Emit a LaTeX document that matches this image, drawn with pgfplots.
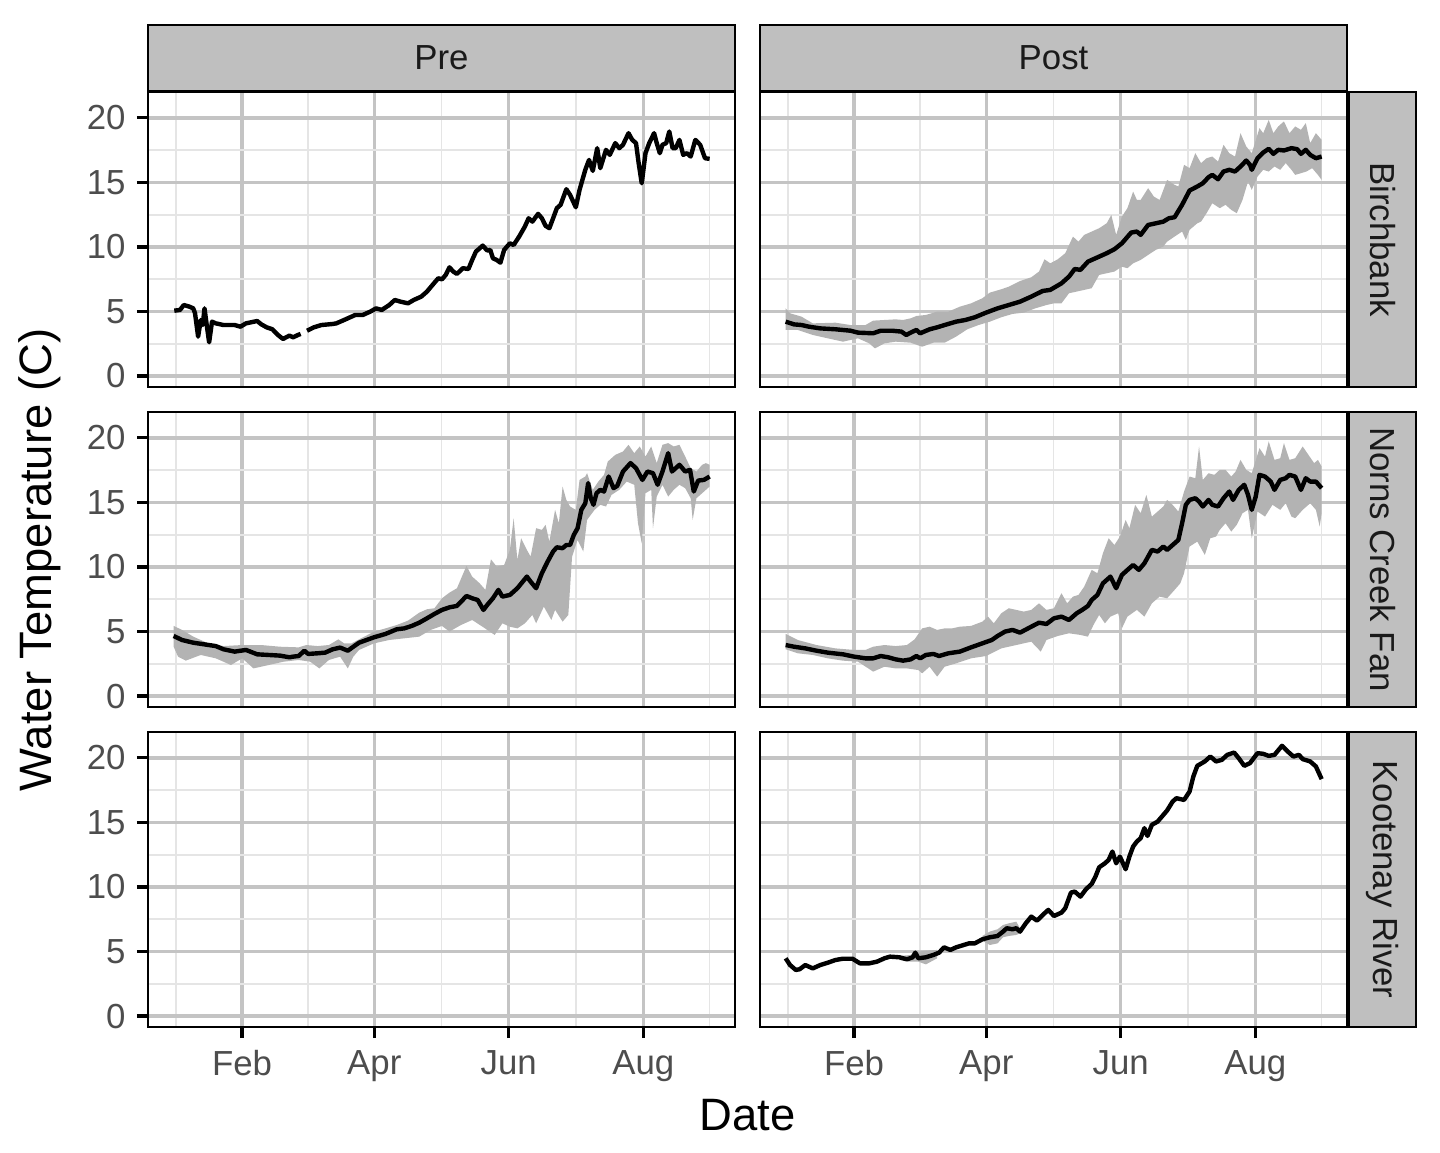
\documentclass[border=0pt]{standalone}
\usepackage{fontspec}
\setmainfont{Liberation Sans}
\usepackage{pgfplots}
\pgfplotsset{compat=1.18}
\usepgfplotslibrary{fillbetween}
\definecolor{gridmaj}{RGB}{196,196,196}
\definecolor{gridmin}{RGB}{229,229,229}
\definecolor{stripfill}{RGB}{191,191,191}
\definecolor{ribbon}{RGB}{179,179,179}
\definecolor{ticklab}{RGB}{77,77,77}
\definecolor{striptext}{RGB}{26,26,26}
\pgfplotsset{
 panel/.style={
  scale only axis, width=293.5pt, height=147.5pt, anchor=south west,
  xmin=-10.63, xmax=255.6, ymin=-0.85, ymax=22.0,
  xtick={32,92,153,214}, minor xtick={2,62,122.5,183.5,244},
  ytick={0,5,10,15,20}, minor ytick={2.5,7.5,12.5,17.5},
  xticklabels={Feb,Apr,Jun,Aug},
  grid=both,
  major grid style={gridmaj, line width=1.7pt},
  minor grid style={gridmin, line width=0.9pt},
  axis line style={black, line width=1pt},
  tick pos=left, tick align=outside,
  major tick length=5.5pt, minor tick length=0pt,
  tick style={black, line width=1.6pt},
  tick label style={font=\fontsize{17.4}{20}\selectfont, text=ticklab},
  xticklabel style={yshift=-2.5pt},
  yticklabel style={xshift=-2.2pt},
  /pgf/number format/assume math mode=true,
 },
 noxlab/.style={xticklabels={}, xtick style={draw=none}},
 noylab/.style={yticklabels={}, ytick style={draw=none}},
 dline/.style={black, line width=2.2pt, line join=round},
 rib/.style={fill=ribbon, draw=none},
}
\begin{document}
\begin{tikzpicture}

% ---------- Pre / Birchbank ----------
\begin{axis}[panel, noxlab, at={(74pt,382.5pt)}]
\addplot[dline] coordinates {(1.3,5.06)(3.9,5.12)(5.6,5.50)(8.2,5.37)(9.9,5.24)(10.7,4.86)(12.1,3.05)(13.3,4.34)(14.2,3.95)(15.0,5.24)(15.9,4.08)(17.1,2.61)(18.4,4.21)(20.1,4.08)(23.6,3.95)(28.7,3.95)(31.3,3.82)(33.8,4.08)(38.9,4.26)(40.7,4.01)(43.2,3.77)(45.8,3.62)(48.3,3.18)(50.6,2.87)(53.5,3.13)(55.2,3.00)(57.4,3.18)(58.6,3.26)};
\addplot[dline] coordinates {(61.5,3.51)(64.6,3.77)(68.0,3.95)(73.1,4.03)(74.8,4.08)(78.3,4.34)(83.4,4.73)(86.8,4.73)(90.2,4.99)(92.8,5.24)(95.4,5.12)(98.8,5.50)(101.3,5.89)(103.9,5.76)(107.3,5.63)(109.9,5.89)(113.3,6.15)(115.9,6.54)(118.4,7.05)(121.0,7.57)(122.7,7.49)(124.4,7.83)(126.1,8.42)(127.8,8.09)(129.5,7.91)(132.1,8.35)(134.7,8.29)(136.4,8.99)(138.1,9.64)(141.2,10.10)(143.2,9.72)(144.6,9.77)(145.8,9.12)(147.5,8.99)(149.2,8.78)(150.9,9.77)(153.5,10.28)(155.2,10.15)(157.7,10.80)(160.3,11.58)(162.0,12.22)(163.7,11.96)(166.3,12.56)(168.0,12.22)(169.7,11.63)(171.4,11.45)(173.1,12.22)(174.8,13.00)(176.5,13.26)(179.1,14.47)(180.8,14.03)(183.4,13.07)(185.1,14.42)(187.7,15.97)(189.4,16.74)(191.1,15.89)(193.1,17.65)(194.5,16.10)(197.1,17.52)(198.8,17.13)(201.3,18.04)(203.1,17.65)(204.8,17.91)(207.3,18.81)(209.0,18.29)(210.7,18.04)(211.9,16.49)(213.3,14.93)(215.0,17.26)(216.7,18.04)(218.9,18.81)(220.1,18.04)(221.5,17.26)(222.7,17.91)(224.4,18.04)(225.8,18.94)(227.3,17.65)(228.7,17.65)(230.4,18.29)(232.1,17.13)(233.8,17.26)(235.5,17.00)(237.6,18.29)(239.8,17.91)(242.0,16.87)(244.1,16.82)};
\end{axis}

% ---------- Post / Birchbank ----------
\begin{axis}[panel, noxlab, noylab, at={(380pt,382.5pt)}]
\addplot[name path=UA, draw=none] coordinates {(1.0,5.24)(3.0,4.86)(8.2,4.60)(13.3,4.08)(23.6,4.13)(30.4,3.95)(37.2,3.95)(40.7,4.29)(45.8,4.34)(50.9,4.39)(54.3,4.34)(57.7,4.47)(60.3,4.65)(64.6,4.73)(69.7,4.99)(74.8,4.99)(80.0,5.37)(85.1,5.63)(90.2,6.02)(93.6,6.46)(98.8,6.72)(102.2,6.92)(107.3,7.36)(112.4,7.65)(115.9,8.09)(118.4,9.04)(121.0,8.73)(124.4,9.04)(127.8,9.51)(131.3,10.80)(133.8,10.41)(136.4,10.93)(139.8,11.19)(143.2,11.45)(146.6,11.83)(148.7,12.48)(150.9,10.93)(153.5,12.35)(156.0,13.00)(158.6,14.29)(160.3,13.64)(162.0,13.64)(165.4,14.55)(168.0,13.90)(170.6,13.64)(174.0,15.19)(177.4,14.81)(179.1,14.68)(181.7,16.36)(184.2,16.10)(186.8,17.26)(189.4,16.49)(191.9,16.87)(194.5,17.00)(197.1,16.61)(199.6,17.91)(202.2,17.26)(204.8,17.00)(207.3,18.81)(209.9,17.78)(212.4,17.26)(215.9,19.20)(217.6,18.81)(220.1,19.84)(222.2,18.81)(224.4,19.33)(227.0,19.72)(229.5,18.81)(232.1,19.33)(234.7,19.07)(236.9,19.59)(238.9,18.04)(241.5,18.81)(244.1,18.29)};
\addplot[name path=LA, draw=none] coordinates {(1.0,3.57)(6.5,3.57)(13.3,3.18)(20.1,2.92)(27.0,2.66)(33.8,2.92)(38.9,2.53)(41.5,2.14)(45.8,2.53)(50.9,2.66)(57.7,2.58)(62.9,2.27)(68.0,2.58)(73.1,2.58)(78.3,3.05)(83.4,3.62)(88.5,3.95)(93.6,4.21)(98.8,4.55)(103.9,4.81)(109.0,4.91)(114.2,5.24)(119.3,5.50)(122.7,5.63)(126.1,5.63)(129.5,6.41)(133.0,6.54)(136.4,6.67)(139.8,6.80)(143.2,7.83)(146.6,7.96)(150.1,8.09)(153.5,8.47)(156.0,8.35)(158.6,8.73)(162.0,8.99)(165.4,9.38)(168.9,9.77)(172.3,10.03)(174.0,10.41)(177.4,10.80)(180.8,11.19)(182.5,10.54)(184.2,11.32)(187.7,11.83)(189.4,11.96)(191.9,12.61)(194.5,13.38)(197.9,13.00)(200.5,13.26)(203.1,12.87)(205.6,12.61)(208.2,13.64)(210.7,15.06)(212.4,14.42)(215.0,15.45)(217.6,15.97)(220.1,15.84)(222.7,16.23)(225.3,15.97)(227.8,16.49)(230.4,15.97)(232.1,15.58)(234.7,15.71)(237.2,15.84)(239.8,16.10)(242.4,15.58)(244.1,15.19)};
\addplot[rib] fill between[of=UA and LA];
\addplot[dline] coordinates {(1.0,4.21)(4.8,4.00)(8.2,3.95)(11.6,3.82)(16.7,3.69)(23.6,3.62)(30.4,3.51)(33.8,3.36)(40.7,3.31)(44.1,3.51)(49.2,3.51)(53.5,3.44)(55.7,3.18)(57.7,3.36)(60.3,3.57)(62.0,3.31)(66.3,3.62)(69.7,3.77)(73.1,3.95)(78.3,4.21)(82.5,4.34)(86.8,4.55)(91.9,4.91)(97.1,5.24)(102.2,5.50)(107.3,5.76)(112.4,6.15)(117.6,6.59)(121.0,6.67)(126.1,7.18)(129.5,7.70)(132.1,8.29)(134.7,8.22)(138.1,8.86)(143.2,9.25)(146.6,9.51)(150.1,9.82)(153.5,10.28)(157.7,11.11)(160.3,11.19)(162.0,10.93)(165.4,11.70)(168.9,11.83)(172.3,11.96)(174.8,12.22)(177.4,12.30)(180.8,13.26)(184.2,14.37)(187.7,14.68)(190.2,14.93)(192.8,15.40)(194.5,15.58)(197.1,15.24)(199.6,15.84)(202.2,15.97)(204.8,15.84)(207.3,16.23)(209.9,16.69)(211.6,16.36)(212.4,15.97)(215.0,16.87)(217.6,17.31)(220.1,17.60)(222.2,17.21)(224.4,17.52)(227.0,17.47)(230.4,17.65)(233.0,17.57)(234.7,17.21)(236.9,17.52)(238.9,17.13)(241.5,16.87)(244.1,17.00)};
\end{axis}

% ---------- Pre / Norns Creek Fan ----------
\begin{axis}[panel, noxlab, at={(74pt,222.5pt)}]
\addplot[name path=UB, draw=none] coordinates {(1.0,5.43)(4.8,5.12)(9.9,4.60)(16.7,4.08)(23.6,3.87)(32.1,3.95)(40.7,3.95)(49.2,3.82)(57.7,3.77)(61.2,3.95)(66.3,3.87)(71.4,3.95)(75.7,4.39)(78.3,4.08)(81.7,4.08)(85.1,4.39)(91.9,4.99)(97.1,5.24)(102.2,5.50)(107.3,5.84)(112.4,6.46)(115.9,6.72)(119.3,6.80)(122.7,7.57)(126.1,8.01)(129.5,8.35)(133.8,10.08)(136.4,9.25)(139.8,8.73)(142.4,8.22)(144.9,10.59)(147.5,10.03)(150.9,10.15)(153.5,11.32)(155.2,13.77)(156.9,10.54)(158.6,12.22)(161.2,11.32)(162.9,10.80)(165.4,13.00)(168.0,12.87)(169.7,13.26)(171.4,11.96)(174.0,14.42)(175.7,13.38)(177.4,16.23)(179.1,15.19)(180.8,14.68)(183.4,14.42)(185.1,16.74)(187.7,17.00)(188.5,17.26)(191.1,15.97)(193.6,16.61)(196.2,17.13)(197.9,18.16)(201.3,18.68)(204.8,18.94)(207.3,19.46)(209.9,18.81)(212.4,19.33)(215.0,18.55)(217.6,19.33)(220.1,18.04)(222.7,19.46)(225.3,19.59)(227.8,19.33)(230.4,19.46)(233.0,18.55)(235.5,17.65)(238.1,17.39)(240.7,17.91)(242.4,18.04)(244.1,17.91)};
\addplot[name path=LB, draw=none] coordinates {(1.0,3.82)(3.0,3.05)(6.5,2.74)(13.3,3.18)(20.1,2.92)(27.0,2.40)(32.1,2.92)(37.2,2.14)(44.1,2.40)(50.9,2.66)(57.7,2.79)(62.9,2.66)(67.1,2.14)(71.4,2.79)(76.5,3.05)(80.0,2.14)(82.5,3.05)(85.1,3.57)(91.9,4.08)(98.8,4.34)(105.6,4.47)(112.4,4.60)(117.6,5.12)(122.7,5.43)(126.1,4.99)(131.3,5.50)(136.4,5.89)(141.5,5.32)(146.6,4.73)(150.1,5.63)(153.5,5.37)(156.9,5.24)(160.3,5.63)(163.7,6.28)(165.4,5.63)(168.9,6.92)(172.3,5.89)(174.0,6.67)(177.4,5.76)(180.0,6.28)(181.7,10.80)(184.2,12.09)(186.8,11.19)(188.5,13.64)(191.9,14.42)(194.5,14.81)(197.1,14.68)(199.6,15.58)(203.1,15.97)(206.5,16.61)(209.9,16.36)(211.6,13.38)(213.3,11.83)(215.0,15.71)(217.6,15.97)(218.4,13.00)(220.1,15.45)(222.7,16.36)(225.3,15.45)(227.8,15.97)(230.4,16.36)(233.0,16.10)(235.5,15.32)(236.4,13.64)(238.1,15.32)(240.7,15.71)(244.1,16.23)};
\addplot[rib] fill between[of=UB and LB];
\addplot[dline] coordinates {(1.0,4.65)(4.8,4.34)(9.9,4.13)(15.0,4.00)(20.1,3.87)(23.6,3.62)(28.7,3.44)(33.8,3.57)(38.9,3.23)(44.1,3.18)(49.2,3.13)(53.5,3.00)(55.2,3.05)(57.7,3.10)(60.3,3.51)(62.0,3.26)(66.3,3.31)(69.7,3.36)(73.1,3.62)(76.5,3.75)(80.0,3.51)(82.5,3.82)(85.1,4.13)(88.5,4.34)(91.9,4.55)(97.1,4.81)(102.2,5.17)(105.6,5.24)(109.0,5.43)(112.4,5.68)(115.9,6.02)(119.3,6.36)(122.7,6.67)(126.1,6.87)(129.5,6.98)(132.1,7.44)(133.8,7.75)(136.4,7.57)(138.9,7.44)(141.5,6.67)(143.2,7.05)(145.8,7.57)(148.3,8.22)(150.1,7.70)(153.5,7.83)(156.9,8.35)(161.2,9.25)(162.9,8.86)(165.4,8.35)(168.0,9.51)(170.6,10.41)(173.1,11.19)(174.8,11.52)(177.4,11.45)(179.1,11.70)(180.8,11.70)(182.5,12.48)(184.2,13.00)(185.9,14.42)(187.7,14.93)(189.0,16.49)(190.2,15.32)(191.4,14.81)(192.8,15.71)(194.5,15.97)(196.2,15.84)(198.3,17.00)(200.5,16.10)(202.2,16.28)(204.8,17.39)(208.2,18.04)(210.7,17.65)(213.6,16.74)(215.9,17.39)(218.4,17.26)(220.5,16.36)(222.7,17.39)(225.3,18.81)(227.0,17.39)(228.7,17.65)(230.4,17.91)(233.0,17.39)(235.2,17.52)(236.9,15.84)(238.9,16.69)(241.5,16.74)(244.1,17.00)};
\end{axis}

% ---------- Post / Norns Creek Fan ----------
\begin{axis}[panel, noxlab, noylab, at={(380pt,222.5pt)}]
\addplot[name path=UC, draw=none] coordinates {(1.0,4.81)(6.5,4.34)(15.0,3.95)(23.6,3.69)(32.1,3.57)(37.2,3.57)(40.7,3.82)(45.8,3.95)(50.9,3.87)(56.0,3.95)(59.5,4.39)(62.9,5.24)(66.3,5.37)(69.7,5.12)(73.1,5.24)(76.5,5.24)(80.0,5.37)(85.1,5.43)(90.2,5.76)(92.8,6.15)(95.4,5.63)(98.8,6.41)(102.2,6.80)(105.6,6.67)(109.0,6.54)(112.4,6.67)(115.9,7.18)(119.3,6.67)(122.7,6.80)(126.1,7.96)(128.7,7.18)(131.3,7.70)(133.8,7.83)(136.4,8.47)(139.8,9.77)(142.4,9.51)(144.9,11.06)(147.5,12.22)(150.1,11.70)(152.6,12.35)(155.2,13.64)(156.9,13.00)(159.5,14.81)(162.0,14.16)(164.6,15.58)(167.1,13.90)(169.7,14.29)(172.3,14.68)(174.0,15.19)(176.5,14.81)(179.1,14.29)(181.7,15.84)(184.2,17.00)(186.8,16.87)(188.5,19.33)(190.2,16.74)(192.8,17.26)(195.4,17.13)(197.9,17.52)(200.5,17.52)(203.1,17.00)(205.1,17.39)(207.3,18.29)(209.9,17.52)(212.4,17.26)(215.9,19.20)(218.4,18.55)(220.1,19.72)(222.7,18.29)(225.3,18.42)(227.0,19.59)(229.5,18.29)(232.1,18.42)(235.5,19.33)(238.1,18.68)(240.7,18.04)(242.4,18.29)(244.1,17.78)};
\addplot[name path=LC, draw=none] coordinates {(1.0,3.62)(6.5,3.31)(13.3,3.18)(20.1,2.92)(27.0,2.74)(33.8,2.66)(40.7,1.89)(45.8,2.27)(50.9,2.14)(56.0,2.14)(61.2,2.01)(62.9,1.76)(66.3,2.27)(69.7,1.50)(73.1,2.27)(78.3,2.53)(85.1,2.92)(91.9,3.10)(98.8,3.69)(105.6,3.95)(112.4,4.21)(116.7,3.44)(119.3,4.34)(124.4,4.65)(129.5,4.86)(134.7,4.73)(138.1,4.60)(140.6,5.50)(143.2,6.28)(145.8,5.63)(148.3,6.15)(151.8,6.41)(153.5,5.24)(156.0,6.15)(160.3,6.67)(163.7,6.15)(167.1,7.18)(170.6,7.70)(174.0,7.57)(177.4,8.22)(180.0,8.73)(181.7,9.51)(184.2,11.58)(187.7,11.96)(191.1,10.93)(193.6,12.22)(196.2,12.35)(197.9,12.87)(200.5,13.38)(203.1,12.74)(205.6,13.26)(208.2,14.16)(210.7,14.42)(212.4,12.22)(215.0,14.29)(218.4,13.90)(221.8,14.81)(225.3,14.42)(227.8,14.93)(230.4,13.90)(232.1,13.77)(235.5,14.42)(238.9,14.93)(241.5,14.42)(243.2,13.13)(244.1,14.16)};
\addplot[rib] fill between[of=UC and LC];
\addplot[dline] coordinates {(1.0,3.95)(4.8,3.82)(9.9,3.69)(15.0,3.51)(20.1,3.36)(27.0,3.23)(32.1,3.05)(37.2,2.92)(40.7,2.92)(44.1,3.10)(47.5,3.00)(50.9,2.84)(54.3,2.74)(57.7,2.84)(60.3,3.10)(62.0,2.92)(64.6,3.18)(68.0,3.26)(70.6,3.10)(74.8,3.31)(80.0,3.44)(85.1,3.77)(90.2,4.08)(94.5,4.34)(97.1,4.65)(100.5,4.99)(103.9,5.12)(107.3,4.91)(112.4,5.37)(115.9,5.68)(119.3,5.58)(122.7,6.02)(126.1,6.15)(129.5,5.89)(133.0,6.41)(135.5,6.67)(138.1,6.98)(139.8,7.44)(142.4,7.83)(144.9,8.73)(148.3,9.25)(150.9,8.35)(153.5,9.38)(156.9,9.90)(158.6,10.15)(161.2,9.77)(163.7,10.28)(167.1,11.32)(169.7,11.19)(172.3,11.58)(174.0,11.32)(177.4,11.83)(179.1,12.09)(180.8,13.38)(182.5,14.81)(184.2,15.19)(186.8,15.32)(188.5,15.06)(190.2,14.68)(192.8,15.19)(194.5,14.81)(197.1,14.68)(199.6,15.32)(202.2,15.84)(203.9,15.19)(206.5,15.97)(209.0,16.36)(210.7,15.58)(212.4,14.42)(214.2,15.45)(215.9,17.13)(218.4,17.00)(221.0,16.61)(222.7,15.97)(225.3,16.74)(227.8,16.87)(229.5,17.13)(232.1,17.00)(234.7,15.97)(236.9,16.87)(238.9,16.61)(241.5,16.61)(244.1,16.10)};
\end{axis}

% ---------- Pre / Kootenay River (no data) ----------
\begin{axis}[panel, at={(74pt,62.5pt)}]
\addplot[draw=none] coordinates {(0,0)};
\end{axis}

% ---------- Post / Kootenay River ----------
\begin{axis}[panel, noylab, at={(380pt,62.5pt)}]
\addplot[name path=UD1, draw=none] coordinates {(52.6,4.65)(57.7,4.73)(61.2,4.99)(64.6,5.06)(69.7,5.12)};
\addplot[name path=LD1, draw=none] coordinates {(52.6,4.34)(57.7,4.21)(61.2,4.21)(64.6,4.00)(69.7,4.47)};
\addplot[rib] fill between[of=UD1 and LD1];
\addplot[name path=UD2, draw=none] coordinates {(90.2,6.20)(93.6,6.54)(97.1,6.72)(99.6,7.05)(102.2,7.18)(105.6,7.31)(107.3,6.80)};
\addplot[name path=LD2, draw=none] coordinates {(90.2,5.84)(93.6,5.50)(97.1,5.63)(99.6,6.10)(102.2,6.20)(105.6,6.28)(107.3,6.41)};
\addplot[rib] fill between[of=UD2 and LD2];
\addplot[dline] coordinates {(1.0,4.47)(3.0,3.95)(5.6,3.57)(7.3,3.62)(9.9,3.95)(13.3,3.69)(16.7,3.95)(20.1,4.13)(23.6,4.34)(27.0,4.44)(31.3,4.44)(34.7,4.08)(38.9,4.08)(42.4,4.21)(45.8,4.47)(48.3,4.60)(52.6,4.55)(56.0,4.39)(58.6,4.55)(59.8,4.91)(61.2,4.47)(64.6,4.55)(68.0,4.73)(70.6,4.91)(72.8,5.32)(75.7,5.12)(78.3,5.32)(81.7,5.50)(84.2,5.63)(86.8,5.63)(90.2,5.94)(93.6,6.10)(97.1,6.20)(99.6,6.54)(101.3,6.80)(103.9,6.72)(105.6,6.80)(107.3,6.54)(109.9,7.18)(112.4,7.70)(115.0,7.39)(117.6,7.83)(120.1,8.22)(122.7,7.75)(126.1,8.01)(127.8,8.35)(130.4,9.56)(132.1,9.64)(134.7,9.25)(137.2,9.82)(139.8,10.23)(141.5,10.80)(143.2,11.52)(145.8,11.83)(147.5,12.09)(149.2,12.74)(150.9,11.83)(152.6,12.35)(155.2,11.37)(156.9,12.35)(158.6,13.13)(160.3,13.52)(162.0,13.77)(163.7,14.55)(165.1,13.95)(167.1,14.81)(169.7,15.06)(171.4,15.40)(174.0,15.92)(176.5,16.61)(178.2,16.87)(181.7,16.74)(184.2,17.39)(185.9,18.55)(187.7,19.38)(191.1,19.72)(193.6,20.10)(196.2,19.72)(198.8,19.84)(201.3,20.23)(204.4,20.41)(206.5,19.97)(209.0,19.38)(211.6,19.59)(215.0,20.36)(217.6,20.31)(220.1,20.15)(222.7,20.23)(226.1,20.93)(228.7,20.49)(231.3,20.10)(233.8,20.23)(235.5,19.90)(238.9,19.72)(241.5,19.33)(244.1,18.35)};
\end{axis}

% ---------- strips ----------
\begin{scope}[line width=0.8pt]
\draw[fill=stripfill] (74pt,530.5pt) rectangle (367.5pt,563.5pt);
\draw[fill=stripfill] (380pt,530.5pt) rectangle (673.5pt,563.5pt);
\draw[fill=stripfill] (674.5pt,382.5pt) rectangle (708pt,530pt);
\draw[fill=stripfill] (674.5pt,222.5pt) rectangle (708pt,370pt);
\draw[fill=stripfill] (674.5pt,62.5pt) rectangle (708pt,210pt);
\end{scope}
\node[text=striptext, font=\fontsize{17.4}{20}\selectfont] at (220.75pt,547pt) {Pre};
\node[text=striptext, font=\fontsize{17.4}{20}\selectfont] at (526.75pt,547pt) {Post};
\node[text=striptext, font=\fontsize{17.4}{20}\selectfont, rotate=-90] at (691.25pt,456.25pt) {Birchbank};
\node[text=striptext, font=\fontsize{17.4}{20}\selectfont, rotate=-90] at (691.25pt,296.25pt) {Norns Creek Fan};
\node[text=striptext, font=\fontsize{17.4}{20}\selectfont, rotate=-90] at (691.25pt,136.25pt) {Kootenay River};

% ---------- axis titles ----------
\node[font=\fontsize{22.7}{27}\selectfont, rotate=90] at (20pt,296pt) {Water Temperature (C)};
\node[font=\fontsize{22.7}{27}\selectfont] at (373.75pt,18.5pt) {Date};
\path (0,0) rectangle (720pt,576pt);
\end{tikzpicture}
\end{document}
